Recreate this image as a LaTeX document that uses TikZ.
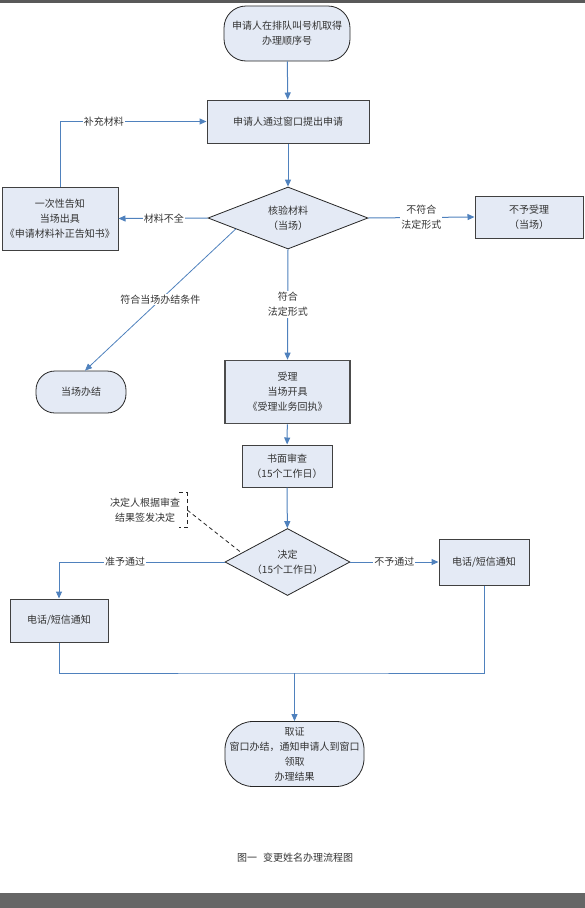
\documentclass[tikz,border=0pt]{standalone}
\usepackage{fontspec}
\setmainfont{Noto Sans CJK SC}
\usepackage{tikz}
\usetikzlibrary{arrows.meta}
\usetikzlibrary{shapes.geometric, calc}

\definecolor{boxFill}{RGB}{228,234,245}
\definecolor{flowBlue}{RGB}{79,129,189}

\begin{document}
\begin{tikzpicture}[x=1pt, y=-1pt, font=\fontsize{10}{15}\selectfont]
   \tikzstyle{myBox}=[rectangle, draw=black!75, fill=boxFill, line width=1pt, align=center, text=black!80, inner sep=0pt]
   \tikzstyle{myTerm}=[myBox, draw=black!85, line width=0.8pt]
   \tikzstyle{myDia}=[diamond, draw=black!85, fill=boxFill, line width=0.8pt, align=center, text=black!80, inner sep=0pt]
   \tikzstyle{myArr}=[draw=flowBlue, line width=1pt, -{Triangle[length=7pt,width=6pt]}]
   \tikzstyle{myLine}=[draw=flowBlue, line width=1pt]
   \tikzstyle{myLab}=[fill=white, text=black!80, inner sep=1pt, align=center]
   \tikzstyle{myDash}=[black!85, line width=0.8pt, dash pattern=on 4pt off 3pt]

   \useasboundingbox (0,0) rectangle (585,908);
   \fill[black!65] (0,0) rectangle (585,3);
   \fill[black!60] (0,893) rectangle (585,908);

   \node[myTerm, rounded corners=22pt, minimum width=126pt, minimum height=55pt] (queue) at (287,33.5) {申请人在排队叫号机取得\\办理顺序号};
   \node[myBox, minimum width=162pt, minimum height=43pt] (apply) at (288,121.5) {申请人通过窗口提出申请};
   \node[myDia, minimum width=160pt, minimum height=62pt, aspect=2.58] (check) at (288,218) {核验材料\\（当场）};
   \node[myBox, minimum width=116pt, minimum height=63pt] (notice) at (60,218.5) {一次性告知\\当场出具\\《申请材料补正告知书》};
   \node[myBox, minimum width=108pt, minimum height=42pt] (reject) at (529,217) {不予受理\\（当场）};
   \node[myTerm, rounded corners=19pt, minimum width=90pt, minimum height=42pt] (onsite) at (81,392) {当场办结};
   \node[myBox, line width=1.6pt, draw=black!70, minimum width=125pt, minimum height=63pt] (accept) at (287.5,392) {受理\\当场开具\\《受理业务回执》};
   \node[myBox, minimum width=90pt, minimum height=42pt] (review) at (287,466) {书面审查\\（15个工作日）};
   \node[myDia, minimum width=125pt, minimum height=67pt, aspect=1.87] (decide) at (287.5,562) {决定\\（15个工作日）};
   \node[myBox, minimum width=98pt, minimum height=43pt] (notifyL) at (59,620.5) {电话/短信通知};
   \node[myBox, minimum width=90pt, minimum height=46pt] (notifyR) at (484,562) {电话/短信通知};
   \node[myTerm, rounded corners=28pt, minimum width=139pt, minimum height=65pt] (finish) at (294.5,754) {取证\\窗口办结，通知申请人到窗口\\领取\\办理结果};
   \node[align=center, minimum width=84pt, minimum height=34pt, inner sep=0pt, text=black!80] (note) at (145,510) {决定人根据审查\\结果签发决定};
   \node[text=black!80] (caption) at (295,858) {图一\hspace{6pt}变更姓名办理流程图};

   \draw[myArr] (queue) -- (apply);
   \draw[myArr] (apply) -- (check);
   \draw[myArr] (check.west) -- node[myLab, pos=0.49] {材料不全} (notice.east);
   \draw[myArr] (notice.north) |- node[myLab, pos=0.65] {补充材料} (apply.west);
   \draw[myArr] (check.east) -- node[myLab] {不符合\\法定形式} (reject.west);
   \draw[myArr, line width=0.8pt] ($(check.west)!0.35!(check.south)$) -- node[myLab] {符合当场办结条件} ([xshift=4pt]onsite.north);
   \draw[myArr] (check.south) -- node[myLab] {符合\\法定形式} (accept.north);
   \draw[myArr] (accept) -- (review);
   \draw[myArr] (review) -- (decide);
   \draw[myArr] (decide.west) -| node[myLab, pos=0.3] {准予通过} (notifyL.north);
   \draw[myArr] (decide.east) -- node[myLab] {不予通过} (notifyR.west);
   \coordinate (merge) at (294.5,673);
   \draw[myLine] (notifyL.south) |- (merge) -| (notifyR.south);
   \draw[myArr] (merge) -- (finish.north);

   \draw[myDash] ([xshift=-8pt]note.north east) -- (note.north east) -- (note.south east) -- ([xshift=-8pt]note.south east);
   \draw[myDash] (note.east) -- ($(decide.west)!0.27!(decide.north)$);
\end{tikzpicture}
\end{document}
